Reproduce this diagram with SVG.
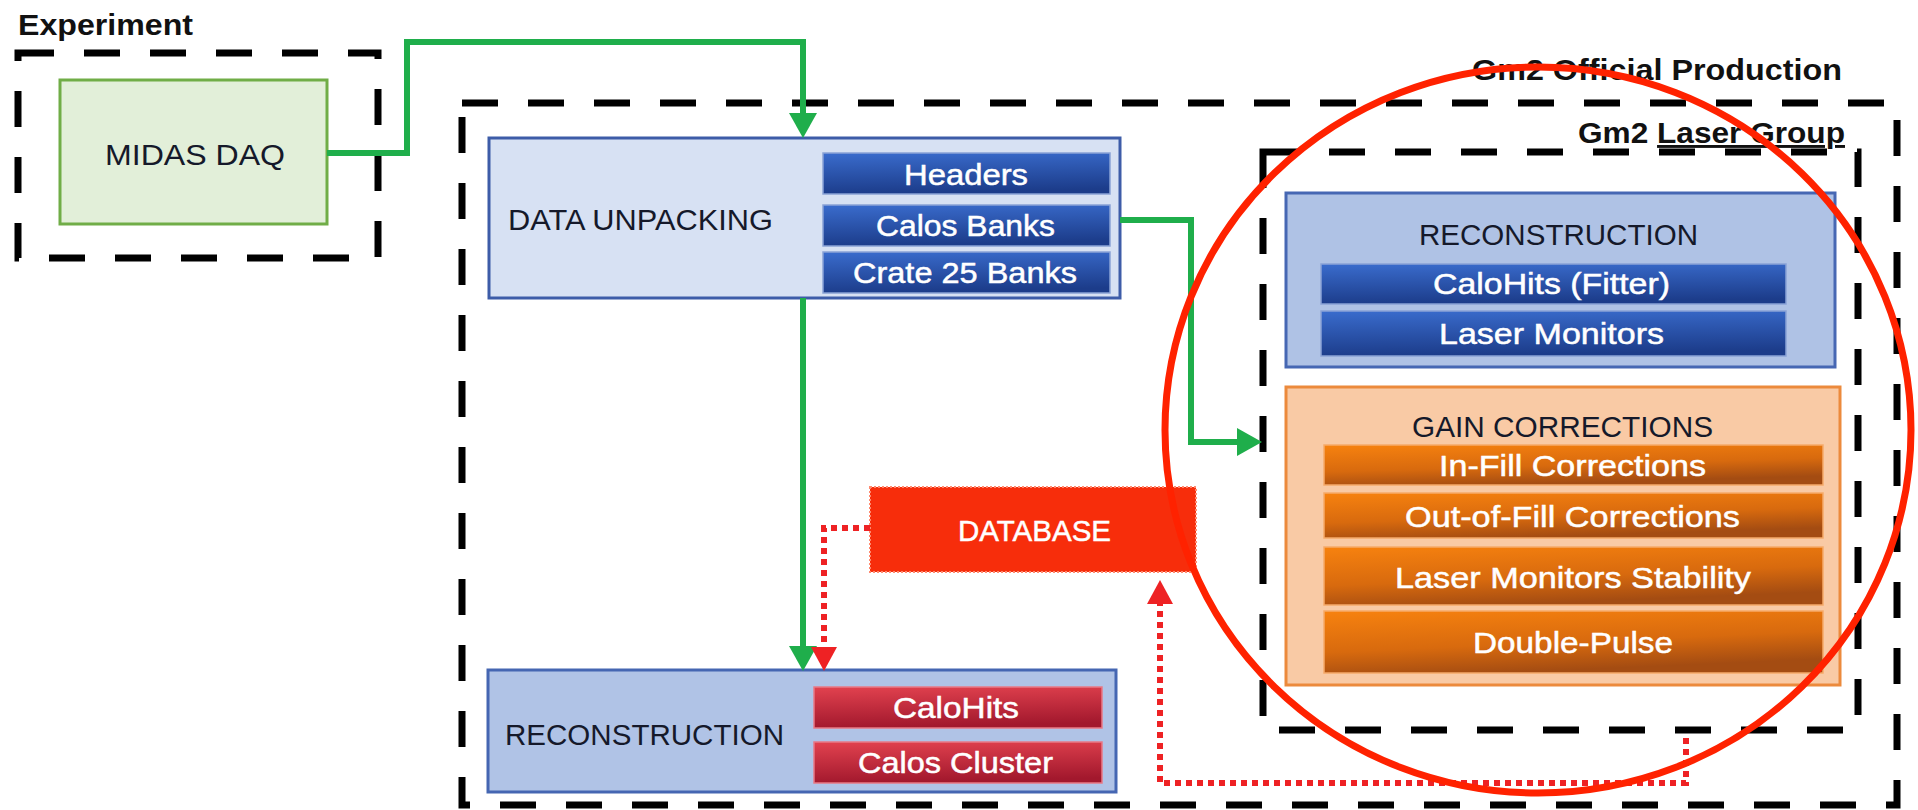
<svg xmlns="http://www.w3.org/2000/svg" width="1918" height="810" viewBox="0 0 1918 810">
<defs>
<style>
text{font-family:"Liberation Sans",Arial,sans-serif;}
.lbl{font-size:29px;font-weight:bold;fill:#111;}
.hd{font-size:30px;fill:#15192a;}
.wt{font-size:30px;fill:#fff;stroke:#fff;stroke-width:0.5;}
.grp{fill:none;stroke:#000;stroke-width:7;stroke-dasharray:36 30;}
.sub-b{fill:url(#blueG);stroke:#8aa3d6;stroke-width:1.5;}
.sub-r{fill:url(#redG);stroke:#e87a86;stroke-width:1.5;}
.sub-o{fill:url(#orangeG);stroke:#f6aa6a;stroke-width:1.5;}
.gline{fill:none;stroke:#1fae4b;stroke-width:6;}
.rline{fill:none;stroke:#ee2224;stroke-width:6;stroke-dasharray:6 5;}
</style>
<linearGradient id="blueG" x1="0" y1="0" x2="0.15" y2="1">
<stop offset="0" stop-color="#3a6ccd"/><stop offset="1" stop-color="#1c3c8a"/>
</linearGradient>
<linearGradient id="redG" x1="0" y1="0" x2="0.15" y2="1">
<stop offset="0" stop-color="#e2424f"/><stop offset="1" stop-color="#a2182d"/>
</linearGradient>
<linearGradient id="orangeG" x1="0" y1="0" x2="0.35" y2="1">
<stop offset="0" stop-color="#f7820f"/><stop offset="0.6" stop-color="#d86a0e"/><stop offset="1" stop-color="#a44c12"/>
</linearGradient>
<marker id="ag" markerUnits="userSpaceOnUse" markerWidth="26" markerHeight="28" refX="0" refY="14" orient="auto">
<path d="M0,0 L25,14 L0,28 z" fill="#1fae4b"/>
</marker>
<marker id="ar" markerUnits="userSpaceOnUse" markerWidth="26" markerHeight="26" refX="0" refY="13" orient="auto">
<path d="M0,0 L24,13 L0,26 z" fill="#ee2224"/>
</marker>
</defs>
<rect width="1918" height="810" fill="#fff"/>

<g id="experiment">
<rect class="grp" x="18" y="53" width="360" height="205"/>
<text class="lbl" x="18" y="35" font-size="28" textLength="175" lengthAdjust="spacingAndGlyphs">Experiment</text>
</g>

<g id="gm2-official-production">
<rect class="grp" x="462" y="103" width="1435" height="702"/>
<text class="lbl" x="1472" y="80" font-size="30" textLength="370" lengthAdjust="spacingAndGlyphs">Gm2 Official Production</text>
</g>

<g id="gm2-laser-group">
<rect class="grp" x="1263" y="152" width="595" height="578"/>
<text class="lbl" x="1578" y="143" textLength="267" lengthAdjust="spacingAndGlyphs">Gm2 <tspan text-decoration="underline">Laser Group</tspan></text>
</g>

<g id="midas-daq">
<rect x="60" y="80" width="267" height="144" fill="#e2efd9" stroke="#70ad47" stroke-width="3"/>
<text class="hd" x="105" y="165" textLength="180" lengthAdjust="spacingAndGlyphs">MIDAS DAQ</text>
</g>

<g id="data-unpacking">
<rect x="489" y="138" width="631" height="160" fill="#d7e1f3" stroke="#3d5ca8" stroke-width="3"/>
<text class="hd" x="508" y="230" textLength="265" lengthAdjust="spacingAndGlyphs">DATA UNPACKING</text>
<rect class="sub-b" x="823" y="153" width="287" height="41"/>
<text class="wt" x="904" y="185" textLength="124" lengthAdjust="spacingAndGlyphs">Headers</text>
<rect class="sub-b" x="823" y="205" width="287" height="41"/>
<text class="wt" x="876" y="236" textLength="179" lengthAdjust="spacingAndGlyphs">Calos Banks</text>
<rect class="sub-b" x="823" y="252" width="287" height="41"/>
<text class="wt" x="853" y="283" textLength="224" lengthAdjust="spacingAndGlyphs">Crate 25 Banks</text>
</g>

<g id="reconstruction-production">
<rect x="488" y="670" width="628" height="122" fill="#b0c3e6" stroke="#4566b2" stroke-width="3"/>
<text class="hd" x="505" y="745" textLength="279" lengthAdjust="spacingAndGlyphs">RECONSTRUCTION</text>
<rect class="sub-r" x="814" y="687" width="288" height="41"/>
<text class="wt" x="893" y="718" textLength="126" lengthAdjust="spacingAndGlyphs">CaloHits</text>
<rect class="sub-r" x="814" y="742" width="288" height="41"/>
<text class="wt" x="858" y="773" textLength="195" lengthAdjust="spacingAndGlyphs">Calos Cluster</text>
</g>

<g id="database">
<rect x="870" y="487" width="326" height="85" fill="#f72d0b" stroke="#ff8a70" stroke-width="2" stroke-dasharray="2 2"/>
<text class="wt" x="958" y="541" textLength="153" lengthAdjust="spacingAndGlyphs">DATABASE</text>
</g>

<g id="reconstruction-laser">
<rect x="1286" y="193" width="549" height="174" fill="#afc2e5" stroke="#4667b3" stroke-width="3"/>
<text class="hd" x="1419" y="245" textLength="279" lengthAdjust="spacingAndGlyphs">RECONSTRUCTION</text>
<rect class="sub-b" x="1321" y="264" width="465" height="40"/>
<text class="wt" x="1433" y="294" textLength="237" lengthAdjust="spacingAndGlyphs">CaloHits (Fitter)</text>
<rect class="sub-b" x="1321" y="311" width="465" height="45"/>
<text class="wt" x="1439" y="344" textLength="225" lengthAdjust="spacingAndGlyphs">Laser Monitors</text>
</g>

<g id="gain-corrections">
<rect x="1286" y="387" width="554" height="298" fill="#f9caa5" stroke="#ec8a3c" stroke-width="3"/>
<text class="hd" x="1412" y="437" textLength="301" lengthAdjust="spacingAndGlyphs">GAIN CORRECTIONS</text>
<rect class="sub-o" x="1324" y="445" width="499" height="40"/>
<text class="wt" x="1439" y="476" textLength="267" lengthAdjust="spacingAndGlyphs">In-Fill Corrections</text>
<rect class="sub-o" x="1324" y="493" width="499" height="45"/>
<text class="wt" x="1405" y="527" textLength="335" lengthAdjust="spacingAndGlyphs">Out-of-Fill Corrections</text>
<rect class="sub-o" x="1324" y="547" width="499" height="58"/>
<text class="wt" x="1395" y="588" font-size="31" textLength="356" lengthAdjust="spacingAndGlyphs">Laser Monitors Stability</text>
<rect class="sub-o" x="1324" y="611" width="499" height="62"/>
<text class="wt" x="1473" y="653" font-size="31" textLength="200" lengthAdjust="spacingAndGlyphs">Double-Pulse</text>
</g>

<g id="connectors">
<path class="gline" d="M327,153 H407 V42 H803 V113" marker-end="url(#ag)"/>
<path class="gline" d="M803,298 V646" marker-end="url(#ag)"/>
<path class="gline" d="M1120,220 H1191 V442 H1237" marker-end="url(#ag)"/>
<path class="rline" d="M870,528 H824 V647" marker-end="url(#ar)"/>
<path class="rline" d="M1686,738 V783 H1160 V604" marker-end="url(#ar)"/>
</g>

<ellipse id="highlight" cx="1538" cy="430" rx="373" ry="363" fill="none" stroke="#ff2200" stroke-width="7"/>
</svg>
